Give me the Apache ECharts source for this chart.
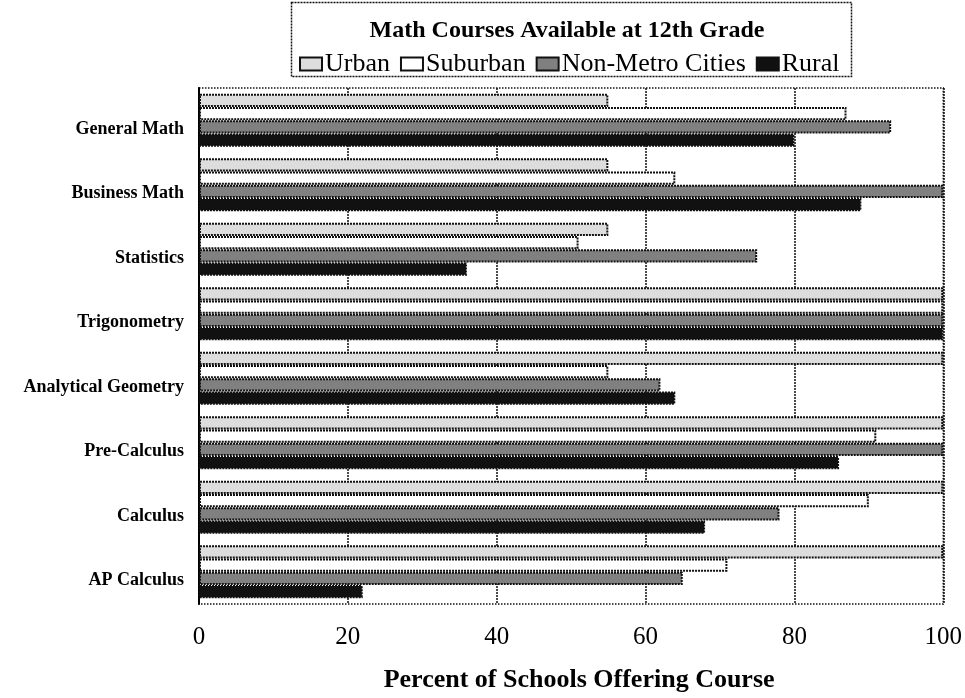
<!DOCTYPE html>
<html>
<head>
<meta charset="utf-8">
<script src="https://cdn.jsdelivr.net/npm/echarts@6/dist/echarts.min.js"></script>
<style>
html,body{margin:0;padding:0;background:#fff;}
#chart{width:965px;height:698px;}
</style>
</head>
<body>
<div id="chart"></div>
<script>
//课程类别（从上到下）
var courses = ['General Math', 'Business Math', 'Statistics', 'Trigonometry',
	'Analytical Geometry', 'Pre-Calculus', 'Calculus', 'AP Calculus'];
//各地区数据（百分比）
var urban      = [55, 55, 55, 100, 100, 100, 100, 100];
var suburban   = [87, 64, 51, 100, 55, 91, 90, 71];
var nonMetro   = [93, 100, 75, 100, 62, 100, 78, 65];
var rural      = [80, 89, 36, 100, 64, 86, 68, 22];
var xTicks = [0, 20, 40, 60, 80, 100];

var font = 'Liberation Serif, Times New Roman, serif';
var myChart = echarts.init(document.getElementById('chart'));

function make_series(name, data, color){
	return {
		name: name,
		type: 'bar',
		data: data,
		barCategoryGap: '18%',
		barGap: '0%',
		itemStyle: {
			color: color,
			borderColor: '#111',
			borderWidth: 2,
			borderType: [2, 1]
		}
	};
}

var option = {
	animation: false,
	backgroundColor: '#fff',
	title: {
		text: 'Math Courses Available at 12th Grade',
		left: 567,
		textAlign: 'center',
		top: 19,
		padding: 0,
		textStyle: {fontFamily: font, fontSize: 24, fontWeight: 'bold', color: '#000'}
	},
	legend: {
		left: 299,
		top: 51,
		padding: 0,
		icon: 'rect',
		itemWidth: 22,
		itemHeight: 13,
		itemGap: 10,
		textStyle: {fontFamily: font, fontSize: 26, color: '#000', padding: [0, 0, 0, -2]},
		data: ['Urban', 'Suburban', 'Non-Metro Cities', 'Rural']
	},
	graphic: [{
		type: 'rect',
		shape: {x: 291.5, y: 2.5, width: 560, height: 74},
		style: {fill: 'none', stroke: '#111', lineWidth: 1.5, lineDash: [2, 1]},
		silent: true
	}],
	grid: {
		left: 199, right: 20, top: 88, bottom: 88,
		show: true,
		borderColor: '#111',
		borderWidth: 1.5,
		borderType: 'dotted'
	},
	xAxis: {
		type: 'value',
		min: xTicks[0],
		max: xTicks[xTicks.length - 1],
		interval: 20,
		name: 'Percent of Schools Offering Course',
		nameLocation: 'middle',
		nameGap: 63,
		nameTextStyle: {fontFamily: font, fontSize: 26, fontWeight: 'bold', color: '#000',
			padding: [0, 0, 0, 16]},
		axisLine: {show: false},
		axisTick: {show: false},
		axisLabel: {fontFamily: font, fontSize: 25, color: '#000', margin: 21},
		splitLine: {show: true, lineStyle: {color: '#111', width: 1.5, type: [2, 1]}}
	},
	yAxis: {
		type: 'category',
		inverse: true,
		data: courses,
		axisLine: {show: true, lineStyle: {color: '#000', width: 2}},
		axisTick: {show: false},
		axisLabel: {fontFamily: font, fontSize: 18, fontWeight: 'bold', color: '#000', margin: 15,
			verticalAlign: 'top', lineHeight: 18},
		splitLine: {show: false}
	},
	series: [
		make_series('Urban', urban, '#dddddd'),
		make_series('Suburban', suburban, '#ffffff'),
		make_series('Non-Metro Cities', nonMetro, '#808080'),
		make_series('Rural', rural, '#111111')
	]
};
myChart.setOption(option);
</script>
</body>
</html>
